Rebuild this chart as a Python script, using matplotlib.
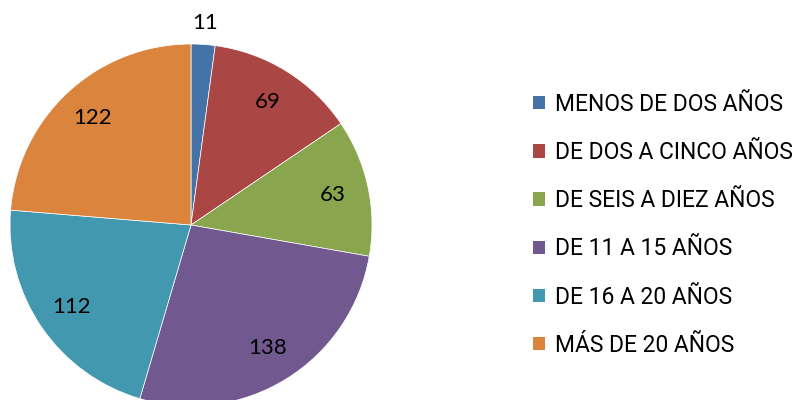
import numpy as np
import matplotlib
matplotlib.use("Agg")
import matplotlib.pyplot as plt
from matplotlib.patches import Patch

categories = ["MENOS DE DOS AÑOS", "DE DOS A CINCO AÑOS", "DE SEIS A DIEZ AÑOS",
              "DE 11 A 15 AÑOS", "DE 16 A 20 AÑOS", "MÁS DE 20 AÑOS"]
values = [11, 69, 63, 138, 112, 122]
colors = ["#4572A7", "#AA4643", "#89A54E", "#71588F", "#4198AF", "#DB843D"]

plt.rcParams['font.family'] = ['Lato', 'DejaVu Sans']

fig = plt.figure(figsize=(8.04, 4.00), dpi=100)
ax = fig.add_axes([0, 0, 1, 1])

cx, cy, R = 191, 175, 181
wedges, _ = ax.pie(values, colors=colors, startangle=90, counterclock=False,
                   center=(cx, cy), radius=R, frame=True,
                   wedgeprops=dict(linewidth=0.5, edgecolor="white"))
ax.set_xlim(0, 804)
ax.set_ylim(0, 400)
ax.set_aspect('equal')
ax.axis('off')

total = sum(values)
cum = 0
for v in values:
    mid = (cum + v / 2) / total * 360
    cum += v
    ang = np.deg2rad(90 - mid)
    d = 1.12 if v / total < 0.05 else 0.80
    ax.text(cx + d * R * np.cos(ang), cy + d * R * np.sin(ang), str(v),
            ha='center', va='center', fontsize=16, color='black')

handles = [Patch(facecolor=c, edgecolor='none') for c in colors]
fig.legend(handles, categories, loc='upper left', bbox_to_anchor=(0.663, 0.768),
           frameon=False, prop=dict(family=['Roboto', 'DejaVu Sans'], size=16.5),
           handlelength=0.52, handleheight=0.52,
           handletextpad=0.42, labelspacing=1.1, borderaxespad=0, borderpad=0)

fig.savefig("out.png", dpi=100)
